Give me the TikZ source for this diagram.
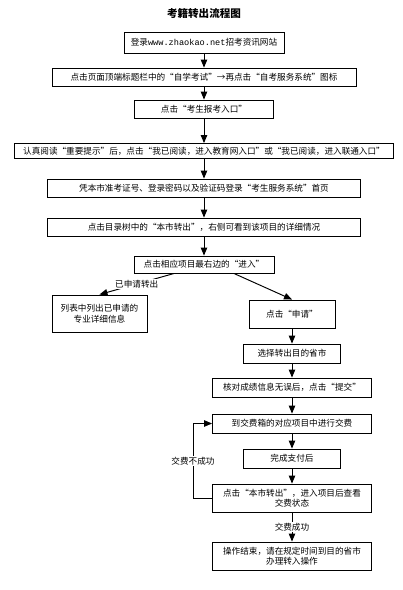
\documentclass[tikz,border=0pt]{standalone}
\usepackage{fontspec}
\setmainfont{Noto Sans CJK SC}
\setmonofont{Liberation Mono}
\usetikzlibrary{arrows}

\begin{document}
\begin{tikzpicture}[->,>=triangle 45,line width=1.1pt,node distance=1.4cm,
  box/.style={rectangle,draw,inner sep=2pt,minimum height=0.72cm,align=center,font=\fontsize{9.8}{12}\selectfont},
  lbl/.style={fill=white,inner sep=1pt,font=\fontsize{9.8}{11}\selectfont}]
  \useasboundingbox (-8.16,0.56) rectangle (7.96,-23.04);

  \node[font=\bfseries\fontsize{12}{14}\selectfont] (title) {考籍转出流程图};
  \node[box, minimum width=6.4cm, minimum height=0.84cm] (login) [node distance=1.14cm, below of=title] {登录\texttt{www.zhaokao.net}招考资讯网站};
  \node[box, minimum width=12.16cm] (portal) [node distance=1.38cm, below of=login] {点击页面顶端标题栏中的“自学考试”→再点击“自考服务系统”图标};
  \node[box, minimum width=5.56cm] (entry) [node distance=1.28cm, below of=portal] {点击“考生报考入口”};
  \node[box, minimum width=15.16cm, minimum height=0.6cm] (notice) [node distance=1.68cm, below of=entry] {认真阅读“重要提示”后，点击“我已阅读，进入教育网入口”或“我已阅读，进入联通入口”};
  \node[box, minimum width=12.52cm] (signin) [node distance=1.48cm, below of=notice] {凭本市准考证号、登录密码以及验证码登录“考生服务系统”首页};
  \node[box, minimum width=12.52cm] (tree) [node distance=1.56cm, below of=signin] {点击目录树中的“本市转出”，右侧可看到该项目的详细情况};
  \node[box, minimum width=5.6cm, minimum height=0.68cm] (enter) [node distance=1.5cm, below of=tree] {点击相应项目最右边的“进入”};

  \node[box, minimum width=3.8cm, minimum height=1.48cm] (list) [node distance=1.96cm, below of=enter, xshift=-4.18cm] {列表中列出已申请的\\专业详细信息};
  \node[box, minimum width=3.44cm, minimum height=1.12cm] (apply) [node distance=1.98cm, below of=enter, xshift=3.52cm] {点击“申请”};
  \node[box, minimum width=3.88cm, minimum height=0.76cm] (province) [node distance=1.58cm, below of=apply] {选择转出目的省市};
  \node[box, minimum width=6.36cm, minimum height=0.76cm] (check) [node distance=1.36cm, below of=province] {核对成绩信息无误后，点击“提交”};
  \node[box, minimum width=6.36cm, minimum height=0.76cm] (pay) [node distance=1.44cm, below of=check] {到交费箱的对应项目中进行交费};
  \node[box, minimum width=3.88cm, minimum height=0.76cm] (paid) [node distance=1.4cm, below of=pay] {完成支付后};
  \node[box, minimum width=6.36cm, minimum height=1.12cm] (status) [node distance=1.58cm, below of=paid] {点击“本市转出”，进入项目后查看\\交费状态};
  \node[box, minimum width=6.36cm, minimum height=1.12cm] (finish) [node distance=2.32cm, below of=status] {操作结束，请在规定时间到目的省市\\办理转入操作};

  \path
    (login) edge (portal)
    (portal) edge (entry)
    (entry) edge (notice)
    (notice) edge (signin)
    (signin) edge (tree)
    (tree) edge (enter)
    ;

  \draw ([xshift=-1.2cm]enter.south) -- node[lbl] {已申请转出} (list.north);
  \draw ([xshift=1.2cm]enter.south) -- (apply.north);

  \path
    (apply) edge (province)
    (province) edge (check)
    (check) edge (pay)
    (pay) edge (paid)
    (paid) edge (status)
    (status) edge node[lbl] {交费成功} (finish)
    ;

  \draw (status.west) -- ++(-0.76,0) |- node[lbl, pos=0.25] {交费不成功} (pay.west);
\end{tikzpicture}
\end{document}
